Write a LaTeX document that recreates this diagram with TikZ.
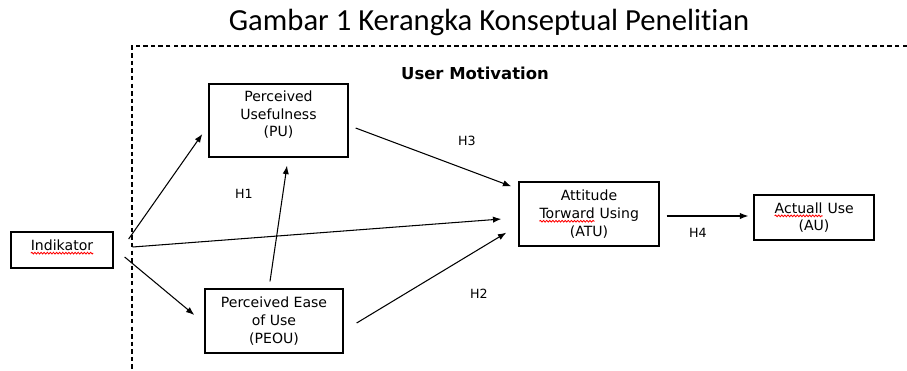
\documentclass[tikz,border=0pt]{standalone}
\usepackage{fontspec}
\usetikzlibrary{arrows.meta, decorations.pathmorphing}
\setmainfont{DejaVu Sans}
\newfontfamily\captionfont[Ligatures=NoCommon]{Carlito}
\newcommand{\redwave}[1]{\tikz[baseline=(w.base)]{\node[draw=none, inner sep=0pt, outer sep=0pt, minimum size=0pt, text depth={}, text height={}] (w) {#1};
  \draw[red, line width=0.6pt, decorate, decoration={snake, amplitude=0.6pt, segment length=2.2pt}] ([yshift=-2pt]w.base west) -- ([yshift=-2pt]w.base east);}}

\begin{document}
\begin{tikzpicture}[
  x=0.025cm, y=-0.025cm,
  var/.style={rectangle, draw, line width=0.9pt, align=center, inner sep=2pt, font=\fontsize{10pt}{12.6pt}\selectfont},
  rel/.style={draw, line width=0.75pt, -{Latex[length=6pt,width=4.5pt]}},
  hyp/.style={font=\fontsize{9pt}{11pt}\selectfont},
]
  \useasboundingbox (0,0) rectangle (907,370);

  % judul dan batas
  \node[font=\captionfont\fontsize{21.8pt}{26pt}\selectfont] (title) at (489,22) {Gambar 1 Kerangka Konseptual Penelitian};
  \draw[line width=0.8pt, dash pattern=on 3.2pt off 2.2pt] (907,46) -- (132,46) -- (132,370);
  \node[font=\fontsize{11.7pt}{14pt}\selectfont\bfseries] (motiv) at (475,73) {User Motivation};

  \node[var, minimum width=2.55cm, minimum height=0.9cm, text depth=0.25cm] (ind) at (62,250) {\redwave{Indikator}};
  \node[var, minimum width=3.475cm, minimum height=1.825cm, text depth=0.34cm] (pu) at (278.5,120.5) {Perceived\\Usefulness\\(PU)};
  \node[var, minimum width=3.45cm, minimum height=1.6cm] (peou) at (274,321) {Perceived Ease\\of Use\\(PEOU)};
  \node[var, minimum width=3.5cm, minimum height=1.6cm] (atu) at (589,214) {Attitude\\\redwave{Torward} Using\\(ATU)};
  \node[var, minimum width=3.0cm, minimum height=1.125cm] (au) at (814,217.5) {\redwave{Actuall} Use\\(AU)};

  \node[hyp] (h1) at (244,194) {H1};
  \node[hyp] (h3) at (467,141) {H3};
  \node[hyp] (h2) at (479,294) {H2};
  \node[hyp] (h4) at (698,233) {H4};

  \draw[rel] ([shift={(15,-11)}]ind.east) -- ([shift={(-6,13.5)}]pu.west);
  \draw[rel] ([shift={(11,7)}]ind.east) -- ([shift={(-10,-6)}]peou.west);
  \draw[rel] ([shift={(19,-3)}]ind.east) -- ([shift={(-17,5)}]atu.west);
  \draw[rel] ([shift={(-4,-7)}]peou.north) -- ([shift={(8.5,8)}]pu.south);
  \draw[rel] ([shift={(7,7.5)}]pu.east) -- ([shift={(-7,5)}]atu.north west);
  \draw[rel] ([shift={(13,2)}]peou.east) -- ([shift={(-12,-14)}]atu.south west);
  \draw[rel] ([shift={(7,2)}]atu.east) -- ([shift={(-5,-1.5)}]au.west);
\end{tikzpicture}
\end{document}
